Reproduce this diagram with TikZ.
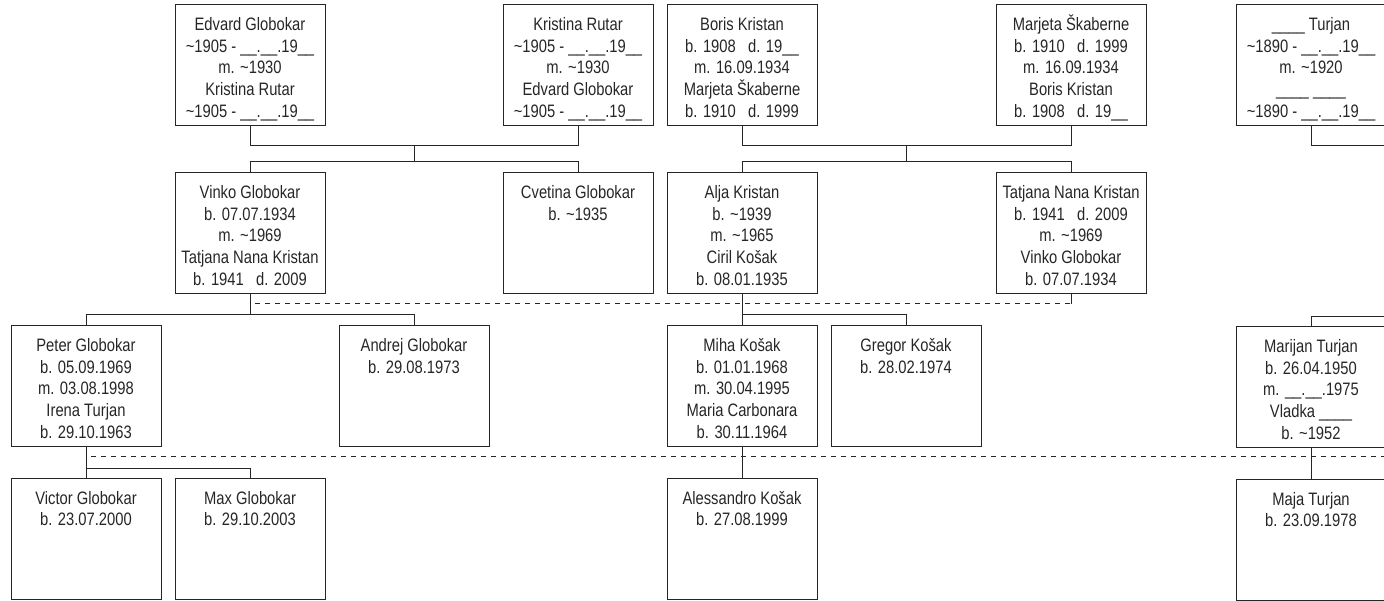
\documentclass[tikz,border=0pt]{standalone}
\usepackage{fontspec}
\setmainfont[FakeStretch=0.82]{Liberation Sans}
\usepackage{xcolor}
\usepackage{tikz}
\usetikzlibrary{positioning,calc}
\definecolor{TreeInk}{HTML}{262626}
\newcommand{\ap}{\textasciitilde}
\newcommand{\bl}{\_\_}
\newcommand{\who}[1]{\parbox[c][121pt][t]{150pt}{\centering\rule{0pt}{26pt}#1}}
\tikzset{
  person/.style={draw=TreeInk, line width=1pt, inner sep=0pt, outer sep=0pt, text=TreeInk,
                 minimum width=150pt, minimum height=121pt},
  kin/.style={draw=TreeInk, line width=1pt},
  wed/.style={kin, dash pattern=on 5pt off 5pt, dash phase=5pt}
}

\begin{document}
\begin{tikzpicture}[node distance=32pt and 14pt, font=\fontsize{18}{21.7}\selectfont]
  \useasboundingbox (0,0) rectangle (1384pt,-601pt);
  \clip (0,0) rectangle (1384pt,-601pt);
  \coordinate (rim) at (1400pt,0);

  \node[person, anchor=north west] (edvard) at (175pt,-4.5pt)
    {\who{Edvard Globokar\\\ap1905 - \bl.\bl.19\bl\\m. \ap1930\\Kristina Rutar\\\ap1905 - \bl.\bl.19\bl}};
  \node[person, right=178pt of edvard] (kristina)
    {\who{Kristina Rutar\\\ap1905 - \bl.\bl.19\bl\\m. \ap1930\\Edvard Globokar\\\ap1905 - \bl.\bl.19\bl}};
  \node[person, right=of kristina] (boris)
    {\who{Boris Kristan\\b. 1908~~~d. 19\bl\\m. 16.09.1934\\Marjeta Škaberne\\b. 1910~~~d. 1999}};
  \node[person, right=179pt of boris] (marjeta)
    {\who{Marjeta Škaberne\\b. 1910~~~d. 1999\\m. 16.09.1934\\Boris Kristan\\b. 1908~~~d. 19\bl}};
  \node[person, right=90pt of marjeta] (turjan)
    {\who{\bl\bl{} Turjan\\\ap1890 - \bl.\bl.19\bl\\m. \ap1920\\\bl\bl{} \bl\bl\\\ap1890 - \bl.\bl.19\bl}};

  \node[person, below=47pt of edvard] (vinko)
    {\who{Vinko Globokar\\b. 07.07.1934\\m. \ap1969\\Tatjana Nana Kristan\\b. 1941~~~d. 2009}};
  \node[person, below=47pt of kristina] (cvetina)
    {\who{Cvetina Globokar\\b. \ap1935}};
  \node[person, below=47pt of boris] (alja)
    {\who{Alja Kristan\\b. \ap1939\\m. \ap1965\\Ciril Košak\\b. 08.01.1935}};
  \node[person, below=47pt of marjeta] (tatjana)
    {\who{Tatjana Nana Kristan\\b. 1941~~~d. 2009\\m. \ap1969\\Vinko Globokar\\b. 07.07.1934}};

  \node[person, below left=32pt and 14pt of vinko] (peter)
    {\who{Peter Globokar\\b. 05.09.1969\\m. 03.08.1998\\Irena Turjan\\b. 29.10.1963}};
  \node[person, right=178pt of peter] (andrej)
    {\who{Andrej Globokar\\b. 29.08.1973}};
  \node[person, below=of alja] (miha)
    {\who{Miha Košak\\b. 01.01.1968\\m. 30.04.1995\\Maria Carbonara\\b. 30.11.1964}};
  \node[person, right=of miha] (gregor)
    {\who{Gregor Košak\\b. 28.02.1974}};
  \node[person, below=201pt of turjan] (marijan)
    {\who{Marijan Turjan\\b. 26.04.1950\\m. \bl.\bl.1975\\Vladka \bl\bl\\b. \ap1952}};

  \node[person, below=31.5pt of peter] (victor)
    {\who{Victor Globokar\\b. 23.07.2000}};
  \node[person, right=of victor] (max)
    {\who{Max Globokar\\b. 29.10.2003}};
  \node[person, below=31.5pt of miha] (alessandro)
    {\who{Alessandro Košak\\b. 27.08.1999}};
  \node[person, below=31.5pt of marijan] (maja)
    {\who{Maja Turjan\\b. 23.09.1978}};

  \draw[kin] (edvard.south) -- ++(0,-20pt) -| (kristina.south);
  \draw[kin] (vinko.north) -- ++(0,11pt) -| (cvetina.north);
  \draw[kin] ($(edvard.south)!.5!(kristina.south)+(0,-20pt)$) -- ($(vinko.north)!.5!(cvetina.north)+(0,11pt)$);
  \draw[kin] (boris.south) -- ++(0,-20pt) -| (marjeta.south);
  \draw[kin] (alja.north) -- ++(0,11pt) -| (tatjana.north);
  \draw[kin] ($(boris.south)!.5!(marjeta.south)+(0,-20pt)$) -- ($(alja.north)!.5!(tatjana.north)+(0,11pt)$);
  \draw[kin] (turjan.south) -- ++(0,-20pt) coordinate (turjanbar) -- (turjanbar -| rim);

  \draw[kin] (peter.north) -- ++(0,11pt) coordinate (vinkobar) -| (andrej.north);
  \draw[kin] (vinko.south) -- (vinko.south |- vinkobar);
  \draw[kin] (miha.north) -- ++(0,11pt) coordinate (aljabar) -| (gregor.north);
  \draw[kin] (alja.south) -- (alja.south |- aljabar);
  \draw[kin] (marijan.north) -- ++(0,10pt) coordinate (marijanbar) -- (marijanbar -| rim);
  \draw[kin] (tatjana.south) -- ++(0,-10.5pt) coordinate (tatjanawed);
  \draw[wed] (vinko.south |- tatjanawed) -- (tatjanawed);

  \draw[kin] (victor.north) -- ++(0,10pt) coordinate (peterbar) -| (max.north);
  \draw[kin] (peter.south) -- (peter.south |- peterbar);
  \draw[kin] (miha.south) -- (alessandro.north);
  \draw[kin] (marijan.south) -- (maja.north);
  \coordinate (irenawed) at ($(peter.south)+(0,-9.5pt)$);
  \draw[wed] (irenawed) -- (irenawed -| rim);
\end{tikzpicture}
\end{document}
